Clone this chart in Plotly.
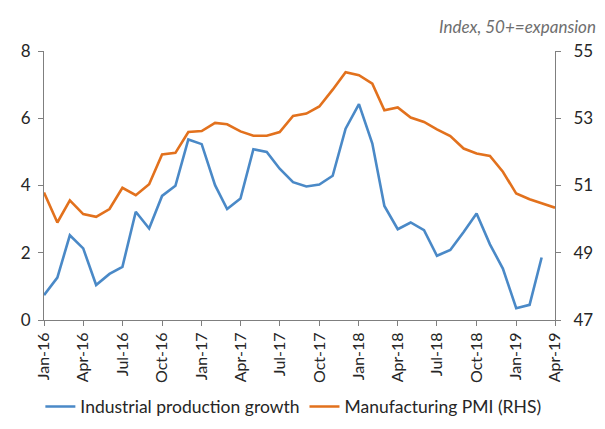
import plotly.graph_objects as go
import pandas as pd

# Monthly dates
pmi_dates = pd.date_range("2016-01-01", "2019-04-01", freq="MS")
ip_dates = pd.date_range("2016-01-01", "2019-03-01", freq="MS")

industrial_production = [
    0.74, 1.26, 2.52, 2.13, 1.04, 1.37, 1.58, 3.22, 2.72, 3.69, 3.99, 5.37,
    5.23, 4.01, 3.30, 3.61, 5.08, 5.00, 4.50, 4.10, 3.97, 4.03, 4.29, 5.69,
    6.42, 5.25, 3.39, 2.70, 2.90, 2.67, 1.91, 2.08, 2.62, 3.17, 2.25, 1.53,
    0.35, 0.45, 1.86,
]
manufacturing_pmi = [
    50.79, 49.90, 50.56, 50.15, 50.07, 50.30, 50.93, 50.71, 51.04, 51.92,
    51.97, 52.59, 52.62, 52.86, 52.82, 52.61, 52.48, 52.48, 52.59, 53.07,
    53.14, 53.35, 53.85, 54.37, 54.28, 54.03, 53.24, 53.32, 53.02, 52.89,
    52.67, 52.47, 52.10, 51.95, 51.88, 51.41, 50.76, 50.59, 50.47, 50.34,
]

tick_dates = pd.date_range("2016-01-01", "2019-04-01", freq="3MS")
tick_labels = [d.strftime("%b-%y") for d in tick_dates]

left_ticks = [0, 2, 4, 6, 8]
right_ticks = [47, 49, 51, 53, 55]

BLUE = "#4A89C7"
ORANGE = "#E2711D"
AXIS = "#7F7F7F"
TEXT = "#262626"
FONT = "Lato"

fig = go.Figure()
fig.add_trace(go.Scatter(
    x=ip_dates, y=industrial_production, mode="lines",
    name="Industrial production growth",
    line=dict(color=BLUE, width=2.6), yaxis="y",
))
fig.add_trace(go.Scatter(
    x=pmi_dates, y=manufacturing_pmi, mode="lines",
    name="Manufacturing PMI (RHS)",
    line=dict(color=ORANGE, width=2.6), yaxis="y2",
))

fig.update_layout(
    width=605, height=429,
    margin=dict(l=44, r=50, t=51, b=109, autoexpand=False),
    paper_bgcolor="white", plot_bgcolor="white",
    font=dict(family=FONT, size=16, color=TEXT),
    showlegend=True,
    legend=dict(orientation="h", x=0.488, xanchor="center", y=-0.255, yanchor="top",
                font=dict(size=17.5, color=TEXT), itemwidth=30,
                bgcolor="rgba(0,0,0,0)"),
    xaxis=dict(
        range=[pmi_dates[0], pmi_dates[-1]],
        tickvals=tick_dates, ticktext=tick_labels, tickangle=-90,
        showgrid=False, zeroline=False, automargin=False,
        showline=True, linecolor=AXIS, linewidth=1,
        ticks="outside", ticklen=5, tickcolor=AXIS,
        tickfont=dict(size=16, color=TEXT),
    ),
    yaxis=dict(
        range=[0, 8], tickvals=left_ticks, automargin=False,
        showgrid=False, zeroline=False,
        showline=True, linecolor=AXIS, linewidth=1,
        ticks="outside", ticklen=5, tickcolor=AXIS,
        tickfont=dict(size=17, color=TEXT), ticklabelstandoff=4,
    ),
    yaxis2=dict(
        range=[47, 55], tickvals=right_ticks, overlaying="y", side="right",
        showgrid=False, zeroline=False, automargin=False,
        showline=True, linecolor=AXIS, linewidth=1,
        ticks="outside", ticklen=5, tickcolor=AXIS,
        tickfont=dict(size=17, color=TEXT), ticklabelstandoff=9,
    ),
    annotations=[dict(
        text="<i>Index, 50+=expansion</i>", xref="paper", yref="paper",
        x=1.084, y=1.0, xanchor="right", yanchor="bottom", yshift=12,
        showarrow=False, font=dict(size=17, color="#6E6E6E", family=FONT),
    )],
)

fig.write_html("out.html", config={"displayModeBar": False},
               post_script="document.body.style.margin='0';document.body.style.overflow='hidden';")
